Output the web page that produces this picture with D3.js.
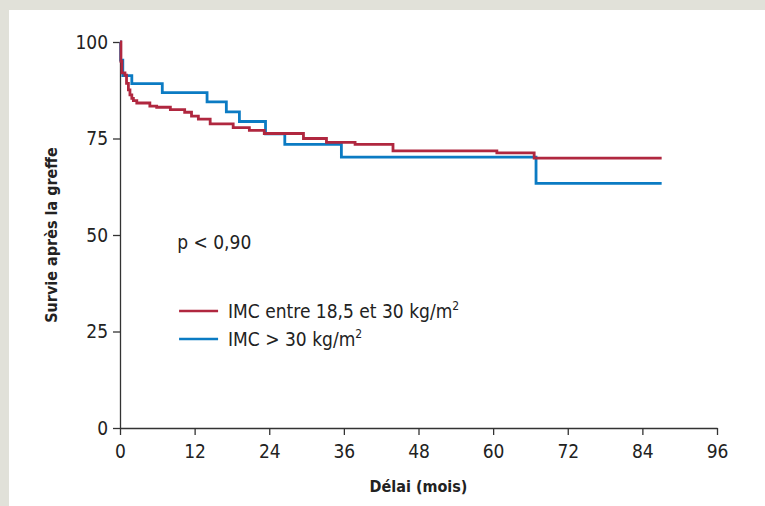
<!doctype html>
<html lang="fr">
  <head>
    <meta charset="UTF-8" />
    <title>Survie après la greffe</title>
    <script src="https://unpkg.com/d3@7.9.0/dist/d3.min.js"></script>
    <style>
      html,
      body {
        margin: 0;
        padding: 0;
        background: #e1e1d9;
      }
      svg {
        display: block;
        font-family: 'Liberation Sans Narrow', 'DejaVu Sans Condensed', 'Roboto', sans-serif;
      }
      .axis path,
      .axis line {
        stroke: #333;
        stroke-width: 1.3px;
      }
      .axis text {
        font-size: 19px;
        fill: #222;
        font-family: 'Liberation Sans Narrow', 'DejaVu Sans Condensed', sans-serif;
      }
      .title {
        font-size: 16px;
        font-weight: bold;
        fill: #222;
      }
    </style>
  </head>
  <body>
    <div id="graph"></div>

    <script>
      // Kaplan-Meier steps (months, % survival)
      const normalTimes = [
        0, 0.15, 0.3, 0.8, 1.05, 1.35, 1.6, 1.9, 2.15, 2.7, 4.8, 5.9, 8.1,
        10.4, 11.5, 12.6, 14.5, 18.2, 20.8, 23.2, 29.5, 33.2, 37.8, 43.9,
        60.6, 66.6, 87.1,
      ];
      const normalSurvival = [
        100, 95, 92, 91.4, 89.3, 87.6, 86.3, 85.4, 84.8, 84.2, 83.4, 83.1,
        82.5, 81.8, 80.8, 80.0, 78.8, 77.8, 77.1, 76.3, 75.0, 74.0, 73.5,
        71.8, 71.3, 69.9, 69.9,
      ];
      const obeseTimes = [
        0, 0.1, 0.45, 1.9, 6.8, 14.0, 17.1, 19.2, 23.4, 26.5, 35.6, 66.9,
        87.1,
      ];
      const obeseSurvival = [
        100, 95.3, 91.3, 89.2, 86.9, 84.5, 81.9, 79.4, 76.2, 73.5, 70.2,
        63.4, 63.4,
      ];
      const xTicks = [0, 12, 24, 36, 48, 60, 72, 84, 96];
      const yTicks = [0, 25, 50, 75, 100];
      const seriesNames = ['IMC entre 18,5 et 30 kg/m', 'IMC > 30 kg/m'];
      const seriesColors = ['#b0273f', '#0b7bc3'];

      const W = 765;
      const H = 506;
      const margin = { top: 42, right: 48, bottom: 78, left: 120 };
      const width = W - margin.left - margin.right;
      const height = H - margin.top - margin.bottom;

      const svg = d3
        .select('#graph')
        .append('svg')
        .attr('width', W)
        .attr('height', H);

      // white panel over the grey frame
      svg
        .append('rect')
        .attr('x', 9)
        .attr('y', 10)
        .attr('width', W - 9)
        .attr('height', H - 10)
        .attr('fill', '#fff');

      const g = svg
        .append('g')
        .attr('transform', `translate(${margin.left},${margin.top})`);

      const x = d3.scaleLinear().domain([0, 96]).range([0, width]);
      const y = d3.scaleLinear().domain([0, 100]).range([height, 0]);

      g.append('g')
        .attr('class', 'axis')
        .attr('transform', `translate(0,${height})`)
        .call(
          d3.axisBottom(x).tickValues(xTicks).tickSize(7).tickSizeOuter(0),
        )
        .call((a) => a.selectAll('text').attr('dy', '1.05em'));

      g.append('g')
        .attr('class', 'axis')
        .call(d3.axisLeft(y).tickValues(yTicks).tickSize(7).tickSizeOuter(0))
        .call((a) => a.selectAll('text').attr('dx', '-0.1em'));

      const line = d3
        .line()
        .x((d) => x(d[0]))
        .y((d) => y(d[1]))
        .curve(d3.curveStepAfter);

      const series = [
        d3.zip(obeseTimes, obeseSurvival),
        d3.zip(normalTimes, normalSurvival),
      ];
      const colorsDrawn = [seriesColors[1], seriesColors[0]];

      g.selectAll('.km')
        .data(series)
        .enter()
        .append('path')
        .attr('class', 'km')
        .attr('d', line)
        .attr('fill', 'none')
        .attr('stroke', (d, i) => colorsDrawn[i])
        .attr('stroke-width', 2.8);

      // p value
      g.append('text')
        .attr('x', x(9.2))
        .attr('y', y(46.4))
        .attr('font-size', 19)
        .attr('fill', '#222')
        .text('p < 0,90');

      // legend
      const legend = g
        .selectAll('.leg')
        .data(seriesNames)
        .enter()
        .append('g')
        .attr('class', 'leg')
        .attr('transform', (d, i) => `translate(${x(9.5)},${y(30.3) + i * 28})`);

      legend
        .append('line')
        .attr('x1', 0)
        .attr('x2', 39)
        .attr('stroke', (d, i) => seriesColors[i])
        .attr('stroke-width', 2.6);

      const lt = legend
        .append('text')
        .attr('x', 49)
        .attr('y', 6.5)
        .attr('font-size', 19)
        .attr('fill', '#222');
      lt.append('tspan').text((d) => d);
      lt.append('tspan')
        .attr('font-size', 12)
        .attr('dy', -8)
        .text('2');

      // axis titles
      g.append('text')
        .attr('class', 'title')
        .attr('text-anchor', 'middle')
        .attr('x', width / 2)
        .attr('y', height + 64)
        .text('Délai (mois)');

      g.append('text')
        .attr('class', 'title')
        .attr('text-anchor', 'middle')
        .attr('transform', `translate(-63,${height / 2}) rotate(-90)`)
        .text('Survie après la greffe');
    </script>
  </body>
</html>
